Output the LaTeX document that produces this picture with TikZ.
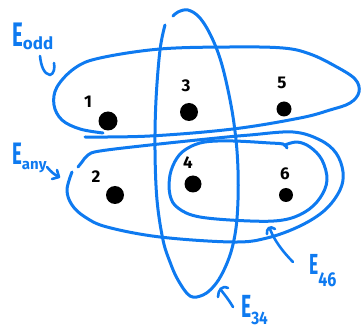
\documentclass[tikz,border=0pt]{standalone}
\usepackage{fontspec}
\newfontfamily\hand{Fira Sans}
\definecolor{pen}{RGB}{14,122,240}
\begin{document}
\begin{tikzpicture}[x=1pt,y=-1pt,
  stroke/.style={draw=pen,line width=3pt,line cap=round,line join=round},
  pointer/.style={draw=pen,line width=2.6pt,line cap=round,line join=round},
  dot/.style={circle,fill=black,inner sep=0pt},
  num/.style={font=\hand\bfseries\fontsize{17}{17}\selectfont,inner sep=0pt,text=black},
  lbl/.style={text=pen,inner sep=0pt,font=\hand\bfseries}]
\useasboundingbox (0,0) rectangle (362,331);
% vertices
\node[dot,minimum size=19pt] (v1) at (108,121) {};
\node[dot,minimum size=18pt] (v3) at (189,112) {};
\node[dot,minimum size=15pt] (v5) at (284,109) {};
\node[dot,minimum size=18pt] (v2) at (115,195) {};
\node[dot,minimum size=17pt] (v4) at (193,184) {};
\node[dot,minimum size=14pt] (v6) at (286,195) {};
\node[num] (n1) at (88,102) {1};
\node[num] (n3) at (186,86) {3};
\node[num] (n5) at (282,83) {5};
\node[num] (n2) at (96,177) {2};
\node[num] (n4) at (188,163) {4};
\node[num] (n6) at (285,174) {6};
% E_odd
\path[stroke] plot[smooth,tension=0.6] coordinates {(103,133) (80,129) (62,120) (54,105) (57,87) (75,68) (100,58) (160,49) (230,47) (283,48) (310,54) (335,66) (355,79) (359,92) (350,103) (330,110) (300,118) (233,129) (150,136) (85,137)};
% E_34
\path[stroke] plot[smooth,tension=0.6] coordinates {(165,25) (160,50) (156,100) (155,150) (157,200) (163,240) (170,262) (178,280) (190,296) (203,295) (214,286) (223,272) (231,252) (236,228) (238,200) (238,170) (236,140) (231,105) (222,65) (212,38) (200,18) (188,10) (178,12) (173,16)};
% E_any
\path[stroke] plot[smooth,tension=0.6] coordinates {(72,172) (67,190) (72,205) (85,217) (107,227) (160,237) (233,242) (267,238) (300,226) (325,210) (340,190) (343,172) (336,153) (320,140) (293,132) (250,135) (217,138) (150,145) (100,151) (88,155) (82,162) (78,167)};
% E_46
\path[stroke] plot[smooth,tension=0.6] coordinates {(287,148) (283,144) (270,143) (233,141) (205,142) (188,148) (177,158) (170,175) (170,195) (178,208) (200,217) (250,221) (283,220) (305,212) (320,198) (327,180) (322,160) (310,147) (297,142) (285,145)};
% labels
\node[lbl,anchor=base west] (Lodd) at (12,47) {\scalebox{0.6}[1]{\fontsize{34}{34}\selectfont E}\raisebox{-3pt}{\fontsize{17}{17}\selectfont odd}};
\node[lbl,anchor=base west] (Lany) at (12,165) {\scalebox{0.6}[1]{\fontsize{31}{31}\selectfont E}\raisebox{-5pt}{\fontsize{15}{15}\selectfont any}};
\node[lbl,anchor=base west] (L46) at (309,275) {\scalebox{0.6}[1]{\fontsize{29}{29}\selectfont E}\raisebox{-12pt}{\scalebox{0.8}[1]{\fontsize{20}{20}\selectfont 46}}};
\node[lbl,anchor=base west] (L34) at (241,318) {\scalebox{0.6}[1]{\fontsize{32}{32}\selectfont E}\raisebox{-7pt}{\scalebox{0.85}[1]{\fontsize{18}{18}\selectfont 34}}};
% pointers
\coordinate (podd) at (50,75);
\coordinate (pany) at (59,177);
\coordinate (p46) at (270,229);
\coordinate (p34) at (221,290);
\draw[pointer] (40,56) .. controls (41,66) and (44,74) .. (podd) .. controls (54,74) and (55,68) .. (54,63);
\draw[pointer] (47,167) .. controls (51,172) and (55,175) .. (pany);
\draw[pointer] (52,179) -- (pany) -- (57,170);
\draw[pointer] (293,262) .. controls (283,252) and (274,240) .. (p46);
\draw[pointer] (267,234) .. controls (266,229) and (270,225) .. (275,229);
\draw[pointer] (233,307) .. controls (229,300) and (224,294) .. (p34);
\draw[pointer] (218,297) .. controls (218,290) and (222,285) .. (228,288);
\end{tikzpicture}
\end{document}
